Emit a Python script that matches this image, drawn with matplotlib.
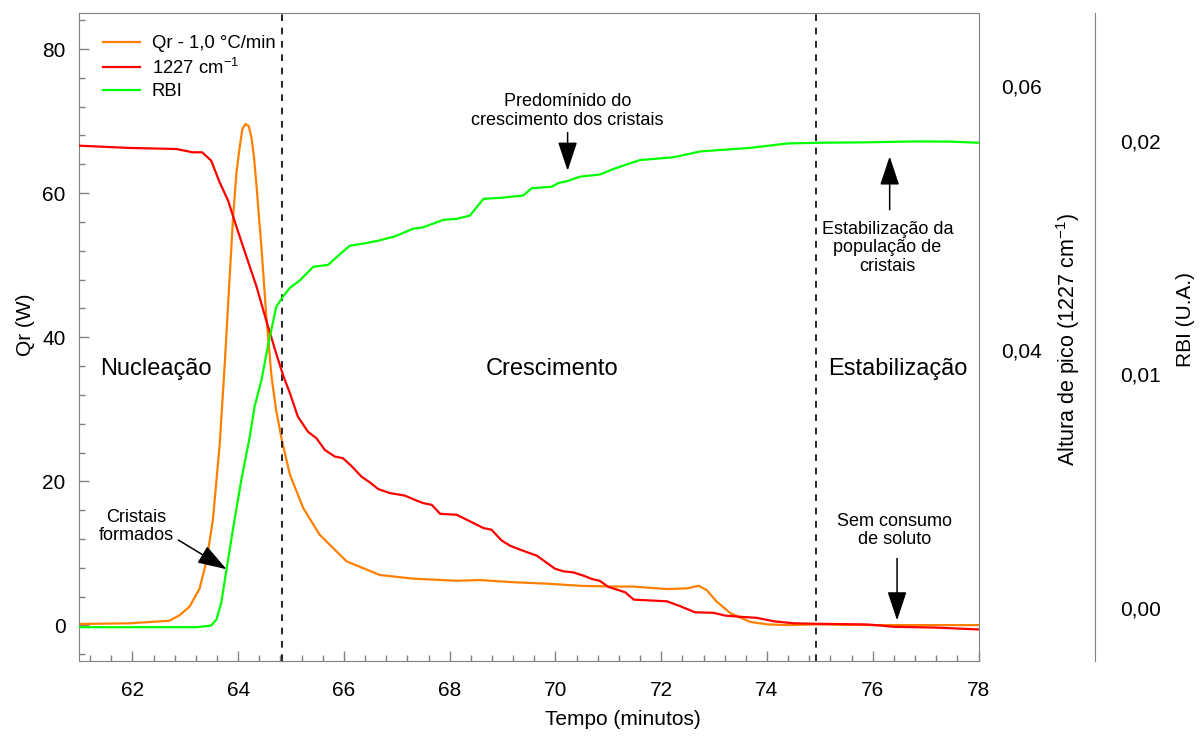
import matplotlib
matplotlib.use("Agg")
import matplotlib.pyplot as plt
from matplotlib.ticker import MultipleLocator, FixedLocator, FixedFormatter
from matplotlib.lines import Line2D

plt.rcParams['font.family'] = ['Liberation Sans', 'DejaVu Sans']
plt.rcParams['mathtext.fontset'] = 'custom'
plt.rcParams['mathtext.rm'] = 'Liberation Sans'
plt.rcParams['mathtext.it'] = 'Liberation Sans:italic'

# Qr heat flow (W)
qr_t = [61.00, 61.95, 62.70, 62.89, 63.08, 63.27, 63.40, 63.52, 63.65, 63.75,
        63.90, 63.97, 64.03, 64.08, 64.14, 64.20, 64.25, 64.30, 64.35, 64.44,
        64.53, 64.63, 64.72, 64.83, 64.98, 65.23, 65.54, 66.05, 66.68, 67.30,
        68.13, 68.57, 69.20, 69.84, 70.47, 71.09, 71.47, 72.11, 72.49, 72.71,
        72.86, 73.05, 73.31, 73.68, 74.00, 74.38, 74.95, 75.89, 77.15, 78.00]
qr_w = [0.2, 0.3, 0.65, 1.4, 2.6, 5.1, 8.9, 14.5, 25.0, 36.7,
        56.2, 63.0, 66.4, 68.9, 69.6, 69.3, 67.8, 65.0, 60.8, 52.5,
        43.2, 34.6, 29.8, 25.6, 20.9, 16.3, 12.6, 8.9, 7.0, 6.5,
        6.2, 6.3, 6.0, 5.8, 5.5, 5.4, 5.4, 5.05, 5.15, 5.5,
        4.9, 3.3, 1.7, 0.5, 0.15, 0.05, 0.15, 0.05, 0.05, 0.05]

# peak height at 1227 cm-1
pk_t = [61.00, 61.95, 62.83, 63.14, 63.32, 63.49, 63.65, 63.81, 63.97, 64.16,
        64.35, 64.53, 64.72, 64.85, 64.98, 65.13, 65.32, 65.48, 65.64, 65.83,
        65.98, 66.14, 66.33, 66.49, 66.65, 66.87, 67.15, 67.34, 67.50, 67.66,
        67.82, 68.13, 68.35, 68.64, 68.79, 68.98, 69.14, 69.33, 69.65, 69.84,
        69.99, 70.15, 70.34, 70.53, 70.69, 70.84, 71.00, 71.16, 71.32, 71.48,
        72.11, 72.36, 72.64, 72.99, 73.21, 73.50, 73.81, 74.13, 74.50, 74.95,
        75.89, 76.15, 76.40, 77.15, 78.02]
pk_h = [0.05547, 0.05530, 0.05522, 0.05497, 0.05497, 0.05434, 0.05270, 0.05132, 0.04931, 0.04704,
        0.04478, 0.04226, 0.03975, 0.03811, 0.03673, 0.03497, 0.03383, 0.03334, 0.03245, 0.03195,
        0.03183, 0.03125, 0.03044, 0.03000, 0.02949, 0.02919, 0.02900, 0.02868, 0.02843, 0.02830,
        0.02762, 0.02755, 0.02712, 0.02654, 0.02642, 0.02561, 0.02521, 0.02491, 0.02445, 0.02390,
        0.02347, 0.02327, 0.02319, 0.02294, 0.02269, 0.02255, 0.02209, 0.02189, 0.02168, 0.02113,
        0.02100, 0.02063, 0.02017, 0.02013, 0.01992, 0.01983, 0.01975, 0.01949, 0.01934, 0.01930,
        0.01925, 0.01917, 0.01907, 0.01902, 0.01887]

# RBI (U.A.)
rbi_t = [61.00, 63.21, 63.49, 63.59, 63.68, 63.78, 63.90, 64.06, 64.22, 64.31,
         64.44, 64.56, 64.72, 64.85, 64.98, 65.17, 65.42, 65.70, 65.88, 66.11,
         66.36, 66.64, 66.96, 67.31, 67.50, 67.88, 68.13, 68.38, 68.64, 68.95,
         69.39, 69.55, 69.93, 70.06, 70.21, 70.47, 70.84, 71.10, 71.41, 71.60,
         72.23, 72.74, 73.68, 74.38, 74.95, 75.89, 76.84, 77.47, 78.02]
rbi_v = [-0.00084, -0.00084, -0.00077, -0.00051, 0.00020, 0.00162, 0.00333, 0.00547, 0.00732, 0.00860,
         0.00974, 0.01117, 0.01288, 0.01333, 0.01370, 0.01402, 0.01460, 0.01468, 0.01505, 0.01550,
         0.01559, 0.01571, 0.01590, 0.01623, 0.01629, 0.01661, 0.01665, 0.01679, 0.01751, 0.01755,
         0.01765, 0.01796, 0.01803, 0.01819, 0.01826, 0.01846, 0.01855, 0.01879, 0.01903, 0.01917,
         0.01929, 0.01954, 0.01969, 0.01988, 0.01991, 0.01993, 0.01997, 0.01996, 0.01991]

stage_bounds = [64.83, 74.93]
pk_ticks = [0.04, 0.06]
pk_ticklabels = ['0,04', '0,06']
rbi_ticks = [0.0, 0.01, 0.02]
rbi_ticklabels = ['0,00', '0,01', '0,02']

c_qr, c_pk, c_rbi = '#ff8000', '#ff0000', '#00ff00'
grey = '#808080'
lw = 1.6

fig = plt.figure(figsize=(11.99, 7.38), dpi=100)
ax = fig.add_axes([0.0663, 0.1037, 0.7498, 0.8787])
ax2 = ax.twinx()
ax3 = ax.twinx()

ax.plot(qr_t, qr_w, color=c_qr, lw=lw)
ax2.plot(pk_t, pk_h, color=c_pk, lw=lw)
ax3.plot(rbi_t, rbi_v, color=c_rbi, lw=lw)

for xb in stage_bounds:
    ax.axvline(xb, color='black', lw=1.2, ls=(0, (4, 4)))

ax.set_xlim(61, 78)
ax.set_ylim(-5, 85)
ax2.set_ylim(0.01645, 0.06551)
ax3.set_ylim(-0.002308, 0.02547)

ax.xaxis.set_major_locator(MultipleLocator(2))
ax.xaxis.set_minor_locator(MultipleLocator(0.4))
ax.yaxis.set_major_locator(MultipleLocator(20))
ax.yaxis.set_minor_locator(MultipleLocator(4))
ax.tick_params(which='both', direction='in', color=grey, top=False, right=False,
               labelsize=15, pad=10)
ax.tick_params(axis='x', which='both', pad=14)
ax.tick_params(which='major', length=7, width=1)
ax.tick_params(which='minor', length=4, width=1)
for sp in ax.spines.values():
    sp.set_color(grey)

ax2.yaxis.set_major_locator(FixedLocator(pk_ticks))
ax2.yaxis.set_major_formatter(FixedFormatter(pk_ticklabels))
ax2.tick_params(axis='y', length=0, labelsize=15, pad=16)
for sp in ax2.spines.values():
    sp.set_visible(False)

ax3.spines['right'].set_position(('axes', 1.1296))
for name, sp in ax3.spines.items():
    sp.set_visible(name == 'right')
ax3.spines['right'].set_color(grey)
ax3.yaxis.set_major_locator(FixedLocator(rbi_ticks))
ax3.yaxis.set_major_formatter(FixedFormatter(rbi_ticklabels))
ax3.tick_params(axis='y', length=0, labelsize=15, pad=18)

ax.set_xlabel('Tempo (minutos)', fontsize=15)
ax.xaxis.set_label_coords(0.6046, -0.090)
ax.xaxis.label.set_va('center')
ax.set_ylabel('Qr (W)', fontsize=15)
ax.yaxis.set_label_coords(-0.0606, 0.519)
ax.yaxis.label.set_va('center')
ax2.set_ylabel('Altura de pico (1227 cm$^{-1}$)', fontsize=15.5)
ax2.yaxis.set_label_coords(1.0996, 0.496)
ax2.yaxis.label.set_va('center')
ax3.set_ylabel('RBI (U.A.)', fontsize=15)
ax3.yaxis.set_label_coords(1.2297, 0.527)
ax3.yaxis.label.set_va('center')

handles = [Line2D([], [], color=c_qr, lw=lw),
           Line2D([], [], color=c_pk, lw=lw),
           Line2D([], [], color=c_rbi, lw=lw)]
ax.legend(handles, ['Qr - 1,0 °C/min', '1227 cm$^{-1}$', 'RBI'],
          loc='upper left', bbox_to_anchor=(0.026, 0.966), frameon=False,
          fontsize=13.3, borderpad=0, borderaxespad=0, labelspacing=0.3,
          handlelength=2.0, handletextpad=0.65)

# stage names
ax.text(61.39, 35.6, 'Nucleação', fontsize=17, ha='left', va='center')
ax.text(69.93, 35.6, 'Crescimento', fontsize=17, ha='center', va='center')
ax.text(76.48, 35.6, 'Estabilização', fontsize=17, ha='center', va='center')

arrow = dict(arrowstyle='-|>,head_length=0.9,head_width=0.3', color='black',
             lw=1.1, mutation_scale=20, shrinkA=0, shrinkB=0)
ax.text(70.23, 71.4, 'Predomínido do\ncrescimento dos cristais', fontsize=13,
        ha='center', va='center', linespacing=1.1)
ax.annotate('', xy=(70.23, 63.1), xytext=(70.23, 68.4), arrowprops=arrow)

ax.text(76.28, 52.4, 'Estabilização da\npopulação de\ncristais', fontsize=13,
        ha='center', va='center', linespacing=1.1)
ax.annotate('', xy=(76.32, 65.1), xytext=(76.32, 57.7), arrowprops=arrow)

ax.text(62.07, 13.75, 'Cristais\nformados', fontsize=13,
        ha='center', va='center', linespacing=1.1)
ax.annotate('', xy=(63.78, 7.8), xytext=(62.87, 11.85), arrowprops=arrow)

ax.text(76.42, 13.2, 'Sem consumo\nde soluto', fontsize=13,
        ha='center', va='center', linespacing=1.1)
ax.annotate('', xy=(76.46, 0.7), xytext=(76.46, 9.3), arrowprops=arrow)

fig.savefig('out.png', dpi=100)
